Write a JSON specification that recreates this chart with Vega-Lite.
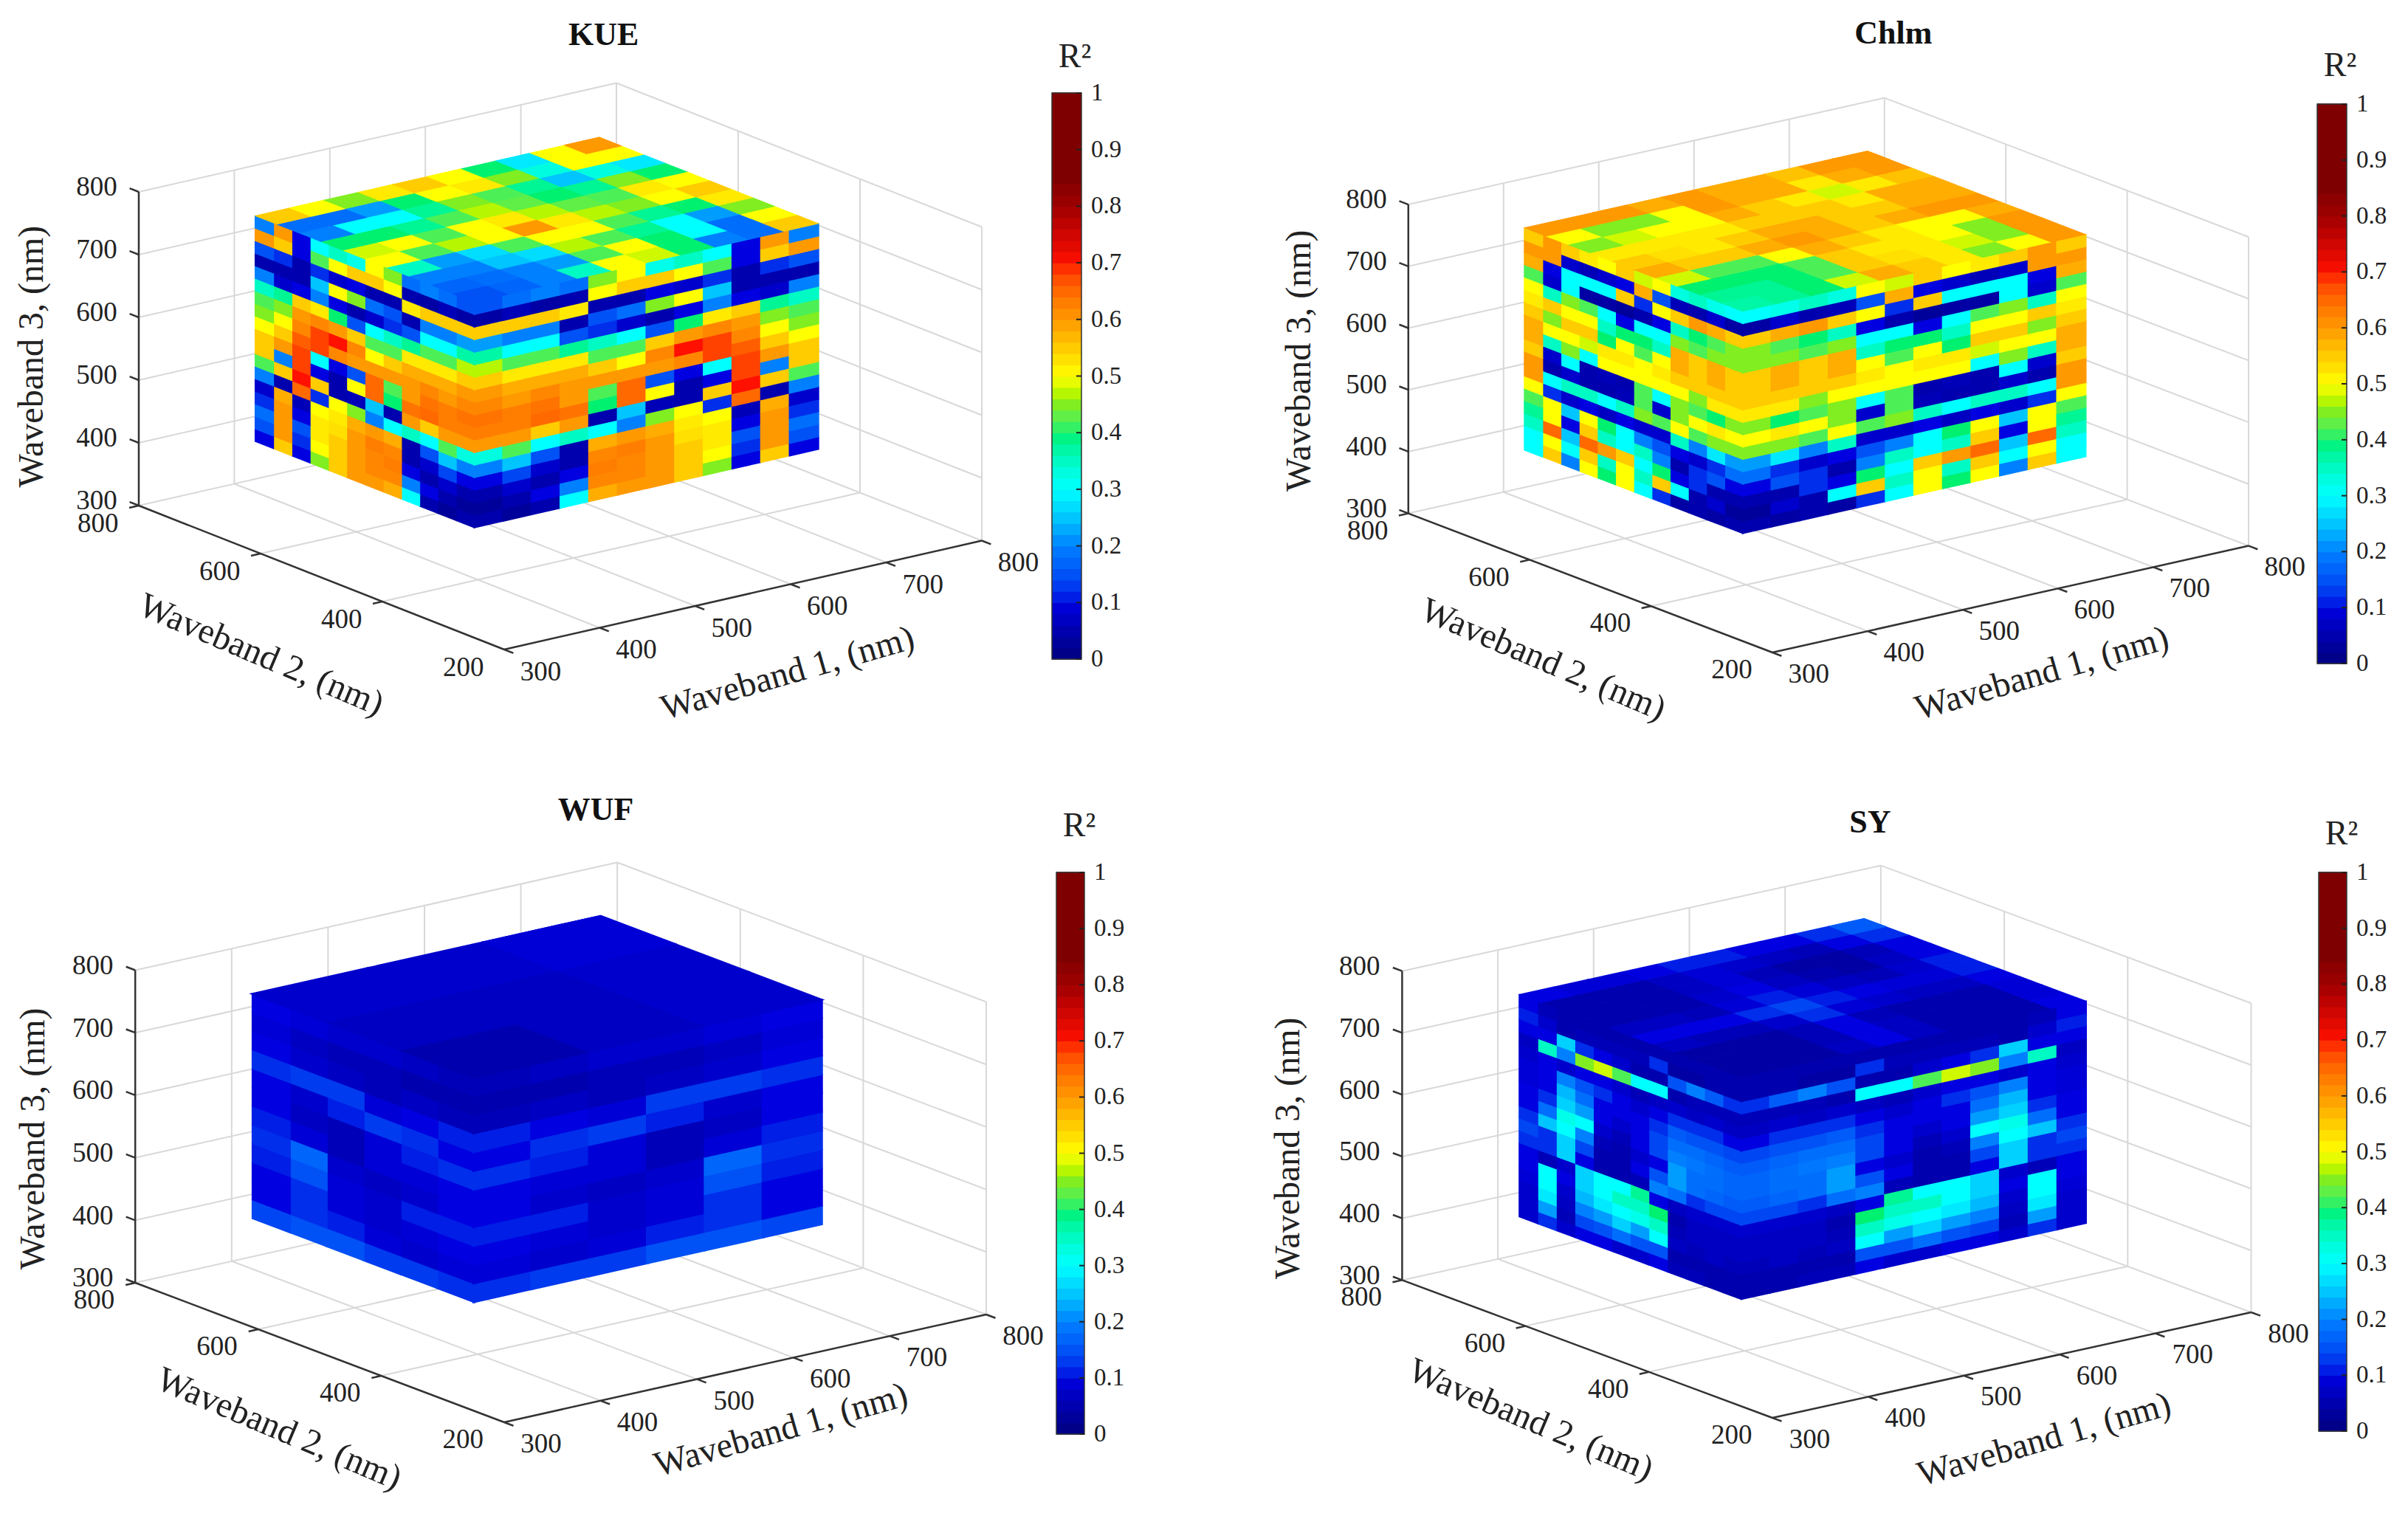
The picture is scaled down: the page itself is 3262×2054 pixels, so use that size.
{"$schema":"https://vega.github.io/schema/vega-lite/v6.json","width":3262,"height":2054,"padding":0,"autosize":{"type":"fit","contains":"padding"},"background":"white","view":{"stroke":null},
"params":[{"name":"P","value":{"K":{"x0":683,"y0":880,"ax":1.294,"ay":-0.295,"bx":-0.825,"by":-0.325,"cy":-0.85,"du":30,"dw":20,"dt":36,"cx0":1425,"cx1":1465,"ct":126,"cb":893,"rt":49},"C":{"x0":2401,"y0":884,"ax":1.29,"ay":-0.289,"bx":-0.822,"by":-0.314,"cy":-0.837,"du":30,"dw":20,"dt":36,"cx0":3139,"cx1":3179,"ct":141,"cb":899,"rt":52},"W":{"x0":683,"y0":1927,"ax":1.306,"ay":-0.292,"bx":-0.833,"by":-0.315,"cy":-0.847,"du":60,"dw":30,"dt":120,"cx0":1431,"cx1":1469,"ct":1182,"cb":1943,"rt":63},"S":{"x0":2401,"y0":1921,"ax":1.297,"ay":-0.286,"bx":-0.836,"by":-0.311,"cy":-0.8375,"du":30,"dw":20,"dt":36,"cx0":3141,"cx1":3179,"ct":1182,"cb":1939,"rt":52}}}],
"datasets":{
"frame":[{"g":1,"a":300,"b":200,"c":300,"a2":300,"b2":800,"c2":300},{"g":1,"a":400,"b":200,"c":300,"a2":400,"b2":800,"c2":300},{"g":1,"a":500,"b":200,"c":300,"a2":500,"b2":800,"c2":300},{"g":1,"a":600,"b":200,"c":300,"a2":600,"b2":800,"c2":300},{"g":1,"a":700,"b":200,"c":300,"a2":700,"b2":800,"c2":300},{"g":1,"a":800,"b":200,"c":300,"a2":800,"b2":800,"c2":300},{"g":1,"a":300,"b":400,"c":300,"a2":800,"b2":400,"c2":300},{"g":1,"a":300,"b":600,"c":300,"a2":800,"b2":600,"c2":300},{"g":1,"a":300,"b":800,"c":300,"a2":800,"b2":800,"c2":300},{"g":1,"a":400,"b":800,"c":300,"a2":400,"b2":800,"c2":800},{"g":1,"a":500,"b":800,"c":300,"a2":500,"b2":800,"c2":800},{"g":1,"a":600,"b":800,"c":300,"a2":600,"b2":800,"c2":800},{"g":1,"a":700,"b":800,"c":300,"a2":700,"b2":800,"c2":800},{"g":1,"a":800,"b":800,"c":300,"a2":800,"b2":800,"c2":800},{"g":1,"a":300,"b":800,"c":400,"a2":800,"b2":800,"c2":400},{"g":1,"a":300,"b":800,"c":500,"a2":800,"b2":800,"c2":500},{"g":1,"a":300,"b":800,"c":600,"a2":800,"b2":800,"c2":600},{"g":1,"a":300,"b":800,"c":700,"a2":800,"b2":800,"c2":700},{"g":1,"a":300,"b":800,"c":800,"a2":800,"b2":800,"c2":800},{"g":1,"a":800,"b":600,"c":300,"a2":800,"b2":600,"c2":800},{"g":1,"a":800,"b":400,"c":300,"a2":800,"b2":400,"c2":800},{"g":1,"a":800,"b":200,"c":300,"a2":800,"b2":200,"c2":800},{"g":1,"a":800,"b":800,"c":400,"a2":800,"b2":200,"c2":400},{"g":1,"a":800,"b":800,"c":500,"a2":800,"b2":200,"c2":500},{"g":1,"a":800,"b":800,"c":600,"a2":800,"b2":200,"c2":600},{"g":1,"a":800,"b":800,"c":700,"a2":800,"b2":200,"c2":700},{"g":1,"a":800,"b":800,"c":800,"a2":800,"b2":200,"c2":800},{"g":0,"a":300,"b":800,"c":300,"a2":300,"b2":800,"c2":800},{"g":0,"a":300,"b":200,"c":300,"a2":300,"b2":800,"c2":300},{"g":0,"a":300,"b":200,"c":300,"a2":800,"b2":200,"c2":300},{"g":0,"a":300,"b":200,"c":300,"a2":300,"b2":185,"c2":300},{"g":0,"a":400,"b":200,"c":300,"a2":400,"b2":185,"c2":300},{"g":0,"a":500,"b":200,"c":300,"a2":500,"b2":185,"c2":300},{"g":0,"a":600,"b":200,"c":300,"a2":600,"b2":185,"c2":300},{"g":0,"a":700,"b":200,"c":300,"a2":700,"b2":185,"c2":300},{"g":0,"a":800,"b":200,"c":300,"a2":800,"b2":185,"c2":300},{"g":0,"a":300,"b":400,"c":300,"a2":290,"b2":400,"c2":300},{"g":0,"a":300,"b":600,"c":300,"a2":290,"b2":600,"c2":300},{"g":0,"a":300,"b":800,"c":300,"a2":290,"b2":800,"c2":300},{"g":0,"a":300,"b":800,"c":300,"a2":300,"b2":815,"c2":300},{"g":0,"a":300,"b":800,"c":400,"a2":300,"b2":815,"c2":400},{"g":0,"a":300,"b":800,"c":500,"a2":300,"b2":815,"c2":500},{"g":0,"a":300,"b":800,"c":600,"a2":300,"b2":815,"c2":600},{"g":0,"a":300,"b":800,"c":700,"a2":300,"b2":815,"c2":700},{"g":0,"a":300,"b":800,"c":800,"a2":300,"b2":815,"c2":800}],
"text":[{"k":"tick","t":"300","a":286,"b":118,"c":300},{"k":"tick","t":"400","a":386,"b":118,"c":300},{"k":"tick","t":"500","a":486,"b":118,"c":300},{"k":"tick","t":"600","a":586,"b":118,"c":300},{"k":"tick","t":"700","a":686,"b":118,"c":300},{"k":"tick","t":"800","a":786,"b":118,"c":300},{"k":"tick","t":"200","a":242,"b":176,"c":300},{"k":"tick","t":"400","a":242,"b":376,"c":300},{"k":"tick","t":"600","a":242,"b":576,"c":300},{"k":"tick","t":"800","a":242,"b":776,"c":300},{"k":"tick","t":"300","a":300,"b":869,"c":281},{"k":"tick","t":"400","a":300,"b":869,"c":381},{"k":"tick","t":"500","a":300,"b":869,"c":481},{"k":"tick","t":"600","a":300,"b":869,"c":581},{"k":"tick","t":"700","a":300,"b":869,"c":681},{"k":"tick","t":"800","a":300,"b":869,"c":781},
{"k":"w1","p":"K","t":"Waveband 1, (nm)","a":447,"b":-35,"c":300},{"k":"w1","p":"C","t":"Waveband 1, (nm)","a":441,"b":-23,"c":300},{"k":"w1","p":"W","t":"Waveband 1, (nm)","a":466,"b":10,"c":300},{"k":"w1","p":"S","t":"Waveband 1, (nm)","a":439,"b":-25,"c":300},
{"k":"w2","p":"K","t":"Waveband 2, (nm)","a":129,"b":331,"c":300},{"k":"w2","p":"C","t":"Waveband 2, (nm)","a":135,"b":319,"c":300},{"k":"w2","p":"W","t":"Waveband 2, (nm)","a":141,"b":317,"c":300},{"k":"w2","p":"S","t":"Waveband 2, (nm)","a":137,"b":339,"c":300},
{"k":"w3","p":"K","t":"Waveband 3, (nm)","a":300,"b":974,"c":471},{"k":"w3","p":"C","t":"Waveband 3, (nm)","a":300,"b":979,"c":480},{"k":"w3","p":"W","t":"Waveband 3, (nm)","a":300,"b":965,"c":469},{"k":"w3","p":"S","t":"Waveband 3, (nm)","a":300,"b":984,"c":445},
{"k":"title","p":"K","t":"KUE","a":404,"b":200,"c":1243},{"k":"title","p":"C","t":"Chlm","a":427,"b":200,"c":1257},{"k":"title","p":"W","t":"WUF","a":395,"b":200,"c":1246},{"k":"title","p":"S","t":"SY","a":402,"b":200,"c":1227}],
"cbar":[{"r":0.01},{"r":0.03},{"r":0.05},{"r":0.07},{"r":0.09},{"r":0.11},{"r":0.13},{"r":0.15},{"r":0.17},{"r":0.19},{"r":0.21},{"r":0.23},{"r":0.25},{"r":0.27},{"r":0.29},{"r":0.31},{"r":0.33},{"r":0.35},{"r":0.37},{"r":0.39},{"r":0.41},{"r":0.43},{"r":0.45},{"r":0.47},{"r":0.49},{"r":0.51},{"r":0.53},{"r":0.55},{"r":0.57},{"r":0.59},{"r":0.61},{"r":0.63},{"r":0.65},{"r":0.67},{"r":0.69},{"r":0.71},{"r":0.73},{"r":0.75},{"r":0.77},{"r":0.79},{"r":0.81},{"r":0.83},{"r":0.85},{"r":0.87},{"r":0.89},{"r":0.91},{"r":0.93},{"r":0.95},{"r":0.97},{"r":0.99}],
"clab":[{"r":0,"t":"0"},{"r":0.1,"t":"0.1"},{"r":0.2,"t":"0.2"},{"r":0.3,"t":"0.3"},{"r":0.4,"t":"0.4"},{"r":0.5,"t":"0.5"},{"r":0.6,"t":"0.6"},{"r":0.7,"t":"0.7"},{"r":0.8,"t":"0.8"},{"r":0.9,"t":"0.9"},{"r":1,"t":"1"}],
"top":[
{"p":"K","u":390,"v":390,"r":0.15},{"p":"K","u":426,"v":390,"r":0.17},{"p":"K","u":462,"v":390,"r":0.2},{"p":"K","u":498,"v":390,"r":0.35},{"p":"K","u":534,"v":390,"r":0.5},{"p":"K","u":570,"v":390,"r":0.48},{"p":"K","u":606,"v":390,"r":0.4},{"p":"K","u":642,"v":390,"r":0.2},{"p":"K","u":678,"v":390,"r":0.18},{"p":"K","u":714,"v":390,"r":0.55},
{"p":"K","u":426,"v":426,"r":0.18},{"p":"K","u":462,"v":426,"r":0.2},{"p":"K","u":498,"v":426,"r":0.22},{"p":"K","u":534,"v":426,"r":0.42},{"p":"K","u":570,"v":426,"r":0.5},{"p":"K","u":606,"v":426,"r":0.4},{"p":"K","u":642,"v":426,"r":0.3},{"p":"K","u":678,"v":426,"r":0.18},{"p":"K","u":714,"v":426,"r":0.5},
{"p":"K","u":462,"v":462,"r":0.25},{"p":"K","u":498,"v":462,"r":0.27},{"p":"K","u":534,"v":462,"r":0.47},{"p":"K","u":570,"v":462,"r":0.42},{"p":"K","u":606,"v":462,"r":0.38},{"p":"K","u":642,"v":462,"r":0.3},{"p":"K","u":678,"v":462,"r":0.22},{"p":"K","u":714,"v":462,"r":0.45},
{"p":"K","u":498,"v":498,"r":0.42},{"p":"K","u":534,"v":498,"r":0.5},{"p":"K","u":570,"v":498,"r":0.5},{"p":"K","u":606,"v":498,"r":0.42},{"p":"K","u":642,"v":498,"r":0.38},{"p":"K","u":678,"v":498,"r":0.4},{"p":"K","u":714,"v":498,"r":0.52},
{"p":"K","u":534,"v":534,"r":0.6},{"p":"K","u":570,"v":534,"r":0.52},{"p":"K","u":606,"v":534,"r":0.47},{"p":"K","u":642,"v":534,"r":0.45},{"p":"K","u":678,"v":534,"r":0.5},{"p":"K","u":714,"v":534,"r":0.55},
{"p":"K","u":570,"v":570,"r":0.47},{"p":"K","u":606,"v":570,"r":0.43},{"p":"K","u":642,"v":570,"r":0.42},{"p":"K","u":678,"v":570,"r":0.52},{"p":"K","u":714,"v":570,"r":0.5},
{"p":"K","u":606,"v":606,"r":0.4},{"p":"K","u":642,"v":606,"r":0.38},{"p":"K","u":678,"v":606,"r":0.45},{"p":"K","u":714,"v":606,"r":0.4},
{"p":"K","u":642,"v":642,"r":0.25},{"p":"K","u":678,"v":642,"r":0.33},{"p":"K","u":714,"v":642,"r":0.28},
{"p":"K","u":678,"v":678,"r":0.5},{"p":"K","u":714,"v":678,"r":0.5},{"p":"K","u":714,"v":714,"r":0.6},
{"p":"C","u":390,"v":390,"r":0.37},{"p":"C","u":426,"v":390,"r":0.38},{"p":"C","u":462,"v":390,"r":0.4},{"p":"C","u":498,"v":390,"r":0.48},{"p":"C","u":534,"v":390,"r":0.58},{"p":"C","u":570,"v":390,"r":0.55},{"p":"C","u":606,"v":390,"r":0.52},{"p":"C","u":642,"v":390,"r":0.45},{"p":"C","u":678,"v":390,"r":0.5},{"p":"C","u":714,"v":390,"r":0.6},
{"p":"C","u":426,"v":426,"r":0.38},{"p":"C","u":462,"v":426,"r":0.4},{"p":"C","u":498,"v":426,"r":0.42},{"p":"C","u":534,"v":426,"r":0.55},{"p":"C","u":570,"v":426,"r":0.53},{"p":"C","u":606,"v":426,"r":0.52},{"p":"C","u":642,"v":426,"r":0.48},{"p":"C","u":678,"v":426,"r":0.45},{"p":"C","u":714,"v":426,"r":0.6},
{"p":"C","u":462,"v":462,"r":0.4},{"p":"C","u":498,"v":462,"r":0.42},{"p":"C","u":534,"v":462,"r":0.55},{"p":"C","u":570,"v":462,"r":0.52},{"p":"C","u":606,"v":462,"r":0.52},{"p":"C","u":642,"v":462,"r":0.5},{"p":"C","u":678,"v":462,"r":0.45},{"p":"C","u":714,"v":462,"r":0.6},
{"p":"C","u":498,"v":498,"r":0.5},{"p":"C","u":534,"v":498,"r":0.58},{"p":"C","u":570,"v":498,"r":0.55},{"p":"C","u":606,"v":498,"r":0.52},{"p":"C","u":642,"v":498,"r":0.5},{"p":"C","u":678,"v":498,"r":0.5},{"p":"C","u":714,"v":498,"r":0.58},
{"p":"C","u":534,"v":534,"r":0.6},{"p":"C","u":570,"v":534,"r":0.58},{"p":"C","u":606,"v":534,"r":0.55},{"p":"C","u":642,"v":534,"r":0.58},{"p":"C","u":678,"v":534,"r":0.6},{"p":"C","u":714,"v":534,"r":0.6},
{"p":"C","u":570,"v":570,"r":0.58},{"p":"C","u":606,"v":570,"r":0.55},{"p":"C","u":642,"v":570,"r":0.55},{"p":"C","u":678,"v":570,"r":0.58},{"p":"C","u":714,"v":570,"r":0.58},
{"p":"C","u":606,"v":606,"r":0.55},{"p":"C","u":642,"v":606,"r":0.52},{"p":"C","u":678,"v":606,"r":0.58},{"p":"C","u":714,"v":606,"r":0.58},
{"p":"C","u":642,"v":642,"r":0.48},{"p":"C","u":678,"v":642,"r":0.52},{"p":"C","u":714,"v":642,"r":0.56},
{"p":"C","u":678,"v":678,"r":0.58},{"p":"C","u":714,"v":678,"r":0.6},{"p":"C","u":714,"v":714,"r":0.6},
{"p":"S","u":390,"v":390,"r":0.04},{"p":"S","u":426,"v":390,"r":0.04},{"p":"S","u":462,"v":390,"r":0.04},{"p":"S","u":498,"v":390,"r":0.07},{"p":"S","u":534,"v":390,"r":0.1},{"p":"S","u":570,"v":390,"r":0.07},{"p":"S","u":606,"v":390,"r":0.05},{"p":"S","u":642,"v":390,"r":0.05},{"p":"S","u":678,"v":390,"r":0.05},{"p":"S","u":714,"v":390,"r":0.1},
{"p":"S","u":426,"v":426,"r":0.04},{"p":"S","u":462,"v":426,"r":0.04},{"p":"S","u":498,"v":426,"r":0.06},{"p":"S","u":534,"v":426,"r":0.1},{"p":"S","u":570,"v":426,"r":0.07},{"p":"S","u":606,"v":426,"r":0.05},{"p":"S","u":642,"v":426,"r":0.05},{"p":"S","u":678,"v":426,"r":0.05},{"p":"S","u":714,"v":426,"r":0.09},
{"p":"S","u":462,"v":462,"r":0.04},{"p":"S","u":498,"v":462,"r":0.06},{"p":"S","u":534,"v":462,"r":0.1},{"p":"S","u":570,"v":462,"r":0.06},{"p":"S","u":606,"v":462,"r":0.05},{"p":"S","u":642,"v":462,"r":0.05},{"p":"S","u":678,"v":462,"r":0.05},{"p":"S","u":714,"v":462,"r":0.09},
{"p":"S","u":498,"v":498,"r":0.08},{"p":"S","u":534,"v":498,"r":0.12},{"p":"S","u":570,"v":498,"r":0.09},{"p":"S","u":606,"v":498,"r":0.08},{"p":"S","u":642,"v":498,"r":0.07},{"p":"S","u":678,"v":498,"r":0.07},{"p":"S","u":714,"v":498,"r":0.1},
{"p":"S","u":534,"v":534,"r":0.14},{"p":"S","u":570,"v":534,"r":0.11},{"p":"S","u":606,"v":534,"r":0.1},{"p":"S","u":642,"v":534,"r":0.09},{"p":"S","u":678,"v":534,"r":0.09},{"p":"S","u":714,"v":534,"r":0.11},
{"p":"S","u":570,"v":570,"r":0.09},{"p":"S","u":606,"v":570,"r":0.07},{"p":"S","u":642,"v":570,"r":0.06},{"p":"S","u":678,"v":570,"r":0.08},{"p":"S","u":714,"v":570,"r":0.11},
{"p":"S","u":606,"v":606,"r":0.05},{"p":"S","u":642,"v":606,"r":0.04},{"p":"S","u":678,"v":606,"r":0.07},{"p":"S","u":714,"v":606,"r":0.1},
{"p":"S","u":642,"v":642,"r":0.04},{"p":"S","u":678,"v":642,"r":0.06},{"p":"S","u":714,"v":642,"r":0.1},
{"p":"S","u":678,"v":678,"r":0.1},{"p":"S","u":714,"v":678,"r":0.12},{"p":"S","u":714,"v":714,"r":0.16},
{"p":"W","u":390,"v":390,"r":0.05},{"p":"W","u":510,"v":390,"r":0.07},{"p":"W","u":630,"v":390,"r":0.08},{"p":"W","u":510,"v":510,"r":0.07},{"p":"W","u":630,"v":510,"r":0.08},{"p":"W","u":630,"v":630,"r":0.09}],
"side":[
{"p":"W","u":390,"w":390,"r":0.12},{"p":"W","u":390,"w":420,"r":0.09},{"p":"W","u":390,"w":450,"r":0.1},{"p":"W","u":390,"w":480,"r":0.11},{"p":"W","u":390,"w":510,"r":0.1},{"p":"W","u":390,"w":540,"r":0.1},{"p":"W","u":390,"w":570,"r":0.12},{"p":"W","u":390,"w":600,"r":0.1},{"p":"W","u":390,"w":630,"r":0.11},{"p":"W","u":390,"w":660,"r":0.06},{"p":"W","u":390,"w":690,"r":0.05},{"p":"W","u":390,"w":720,"r":0.06},
{"p":"W","u":450,"w":390,"r":0.13},{"p":"W","u":450,"w":420,"r":0.08},{"p":"W","u":450,"w":450,"r":0.09},{"p":"W","u":450,"w":480,"r":0.11},{"p":"W","u":450,"w":510,"r":0.08},{"p":"W","u":450,"w":540,"r":0.09},{"p":"W","u":450,"w":570,"r":0.11},{"p":"W","u":450,"w":600,"r":0.12},{"p":"W","u":450,"w":630,"r":0.1},{"p":"W","u":450,"w":660,"r":0.07},{"p":"W","u":450,"w":690,"r":0.05},{"p":"W","u":450,"w":720,"r":0.07},
{"p":"W","u":510,"w":390,"r":0.13},{"p":"W","u":510,"w":420,"r":0.09},{"p":"W","u":510,"w":450,"r":0.08},{"p":"W","u":510,"w":480,"r":0.08},{"p":"W","u":510,"w":510,"r":0.07},{"p":"W","u":510,"w":540,"r":0.09},{"p":"W","u":510,"w":570,"r":0.09},{"p":"W","u":510,"w":600,"r":0.13},{"p":"W","u":510,"w":630,"r":0.09},{"p":"W","u":510,"w":660,"r":0.06},{"p":"W","u":510,"w":690,"r":0.06},{"p":"W","u":510,"w":720,"r":0.08},
{"p":"W","u":570,"w":390,"r":0.15},{"p":"W","u":570,"w":420,"r":0.11},{"p":"W","u":570,"w":450,"r":0.09},{"p":"W","u":570,"w":480,"r":0.09},{"p":"W","u":570,"w":510,"r":0.08},{"p":"W","u":570,"w":540,"r":0.06},{"p":"W","u":570,"w":570,"r":0.06},{"p":"W","u":570,"w":600,"r":0.11},{"p":"W","u":570,"w":630,"r":0.13},{"p":"W","u":570,"w":660,"r":0.07},{"p":"W","u":570,"w":690,"r":0.06},{"p":"W","u":570,"w":720,"r":0.08},
{"p":"W","u":630,"w":390,"r":0.15},{"p":"W","u":630,"w":420,"r":0.12},{"p":"W","u":630,"w":450,"r":0.12},{"p":"W","u":630,"w":480,"r":0.15},{"p":"W","u":630,"w":510,"r":0.17},{"p":"W","u":630,"w":540,"r":0.09},{"p":"W","u":630,"w":570,"r":0.07},{"p":"W","u":630,"w":600,"r":0.08},{"p":"W","u":630,"w":630,"r":0.13},{"p":"W","u":630,"w":660,"r":0.08},{"p":"W","u":630,"w":690,"r":0.07},{"p":"W","u":630,"w":720,"r":0.09},
{"p":"W","u":690,"w":390,"r":0.14},{"p":"W","u":690,"w":420,"r":0.1},{"p":"W","u":690,"w":450,"r":0.1},{"p":"W","u":690,"w":480,"r":0.11},{"p":"W","u":690,"w":510,"r":0.12},{"p":"W","u":690,"w":540,"r":0.11},{"p":"W","u":690,"w":570,"r":0.1},{"p":"W","u":690,"w":600,"r":0.1},{"p":"W","u":690,"w":630,"r":0.12},{"p":"W","u":690,"w":660,"r":0.1},{"p":"W","u":690,"w":690,"r":0.09},{"p":"W","u":690,"w":720,"r":0.1},
{"p":"K","u":390,"w":390,"r":0.05},{"p":"K","u":390,"w":410,"r":0.03},{"p":"K","u":390,"w":430,"r":0.05},{"p":"K","u":390,"w":450,"r":0.1},{"p":"K","u":390,"w":470,"r":0.2},{"p":"K","u":390,"w":490,"r":0.33},{"p":"K","u":390,"w":510,"r":0.6},{"p":"K","u":390,"w":530,"r":0.63},{"p":"K","u":390,"w":550,"r":0.64},{"p":"K","u":390,"w":570,"r":0.62},{"p":"K","u":390,"w":590,"r":0.6},{"p":"K","u":390,"w":610,"r":0.55},{"p":"K","u":390,"w":630,"r":0.47},{"p":"K","u":390,"w":650,"r":0.37},{"p":"K","u":390,"w":670,"r":0.22},{"p":"K","u":390,"w":690,"r":0.55},{"p":"K","u":390,"w":710,"r":0.04},{"p":"K","u":390,"w":730,"r":0.15},
{"p":"K","u":420,"w":390,"r":0.03},{"p":"K","u":420,"w":410,"r":0.05},{"p":"K","u":420,"w":430,"r":0.08},{"p":"K","u":420,"w":450,"r":0.14},{"p":"K","u":420,"w":470,"r":0.25},{"p":"K","u":420,"w":490,"r":0.42},{"p":"K","u":420,"w":510,"r":0.6},{"p":"K","u":420,"w":530,"r":0.63},{"p":"K","u":420,"w":550,"r":0.63},{"p":"K","u":420,"w":570,"r":0.6},{"p":"K","u":420,"w":590,"r":0.58},{"p":"K","u":420,"w":610,"r":0.52},{"p":"K","u":420,"w":630,"r":0.42},{"p":"K","u":420,"w":650,"r":0.3},{"p":"K","u":420,"w":670,"r":0.2},{"p":"K","u":420,"w":690,"r":0.55},{"p":"K","u":420,"w":710,"r":0.06},{"p":"K","u":420,"w":730,"r":0.18},
{"p":"K","u":450,"w":390,"r":0.05},{"p":"K","u":450,"w":410,"r":0.1},{"p":"K","u":450,"w":430,"r":0.05},{"p":"K","u":450,"w":450,"r":0.08},{"p":"K","u":450,"w":470,"r":0.15},{"p":"K","u":450,"w":490,"r":0.3},{"p":"K","u":450,"w":510,"r":0.55},{"p":"K","u":450,"w":530,"r":0.65},{"p":"K","u":450,"w":550,"r":0.64},{"p":"K","u":450,"w":570,"r":0.62},{"p":"K","u":450,"w":590,"r":0.58},{"p":"K","u":450,"w":610,"r":0.52},{"p":"K","u":450,"w":630,"r":0.42},{"p":"K","u":450,"w":650,"r":0.3},{"p":"K","u":450,"w":670,"r":0.2},{"p":"K","u":450,"w":690,"r":0.55},{"p":"K","u":450,"w":710,"r":0.04},{"p":"K","u":450,"w":730,"r":0.2},
{"p":"K","u":480,"w":390,"r":0.3},{"p":"K","u":480,"w":410,"r":0.2},{"p":"K","u":480,"w":430,"r":0.1},{"p":"K","u":480,"w":450,"r":0.05},{"p":"K","u":480,"w":470,"r":0.05},{"p":"K","u":480,"w":490,"r":0.35},{"p":"K","u":480,"w":510,"r":0.6},{"p":"K","u":480,"w":530,"r":0.64},{"p":"K","u":480,"w":550,"r":0.6},{"p":"K","u":480,"w":570,"r":0.6},{"p":"K","u":480,"w":590,"r":0.58},{"p":"K","u":480,"w":610,"r":0.52},{"p":"K","u":480,"w":630,"r":0.38},{"p":"K","u":480,"w":650,"r":0.15},{"p":"K","u":480,"w":670,"r":0.05},{"p":"K","u":480,"w":690,"r":0.52},{"p":"K","u":480,"w":710,"r":0.05},{"p":"K","u":480,"w":730,"r":0.18},
{"p":"K","u":510,"w":390,"r":0.58},{"p":"K","u":510,"w":410,"r":0.62},{"p":"K","u":510,"w":430,"r":0.63},{"p":"K","u":510,"w":450,"r":0.62},{"p":"K","u":510,"w":470,"r":0.58},{"p":"K","u":510,"w":490,"r":0.3},{"p":"K","u":510,"w":510,"r":0.05},{"p":"K","u":510,"w":530,"r":0.4},{"p":"K","u":510,"w":550,"r":0.42},{"p":"K","u":510,"w":570,"r":0.6},{"p":"K","u":510,"w":590,"r":0.55},{"p":"K","u":510,"w":610,"r":0.42},{"p":"K","u":510,"w":630,"r":0.35},{"p":"K","u":510,"w":650,"r":0.12},{"p":"K","u":510,"w":670,"r":0.15},{"p":"K","u":510,"w":690,"r":0.05},{"p":"K","u":510,"w":710,"r":0.5},{"p":"K","u":510,"w":730,"r":0.45},
{"p":"K","u":540,"w":390,"r":0.6},{"p":"K","u":540,"w":410,"r":0.62},{"p":"K","u":540,"w":430,"r":0.62},{"p":"K","u":540,"w":450,"r":0.63},{"p":"K","u":540,"w":470,"r":0.6},{"p":"K","u":540,"w":490,"r":0.2},{"p":"K","u":540,"w":510,"r":0.25},{"p":"K","u":540,"w":530,"r":0.65},{"p":"K","u":540,"w":550,"r":0.65},{"p":"K","u":540,"w":570,"r":0.6},{"p":"K","u":540,"w":590,"r":0.5},{"p":"K","u":540,"w":610,"r":0.42},{"p":"K","u":540,"w":630,"r":0.3},{"p":"K","u":540,"w":650,"r":0.08},{"p":"K","u":540,"w":670,"r":0.18},{"p":"K","u":540,"w":690,"r":0.05},{"p":"K","u":540,"w":710,"r":0.55},{"p":"K","u":540,"w":730,"r":0.5},
{"p":"K","u":570,"w":390,"r":0.6},{"p":"K","u":570,"w":410,"r":0.6},{"p":"K","u":570,"w":430,"r":0.6},{"p":"K","u":570,"w":450,"r":0.6},{"p":"K","u":570,"w":470,"r":0.58},{"p":"K","u":570,"w":490,"r":0.45},{"p":"K","u":570,"w":510,"r":0.06},{"p":"K","u":570,"w":530,"r":0.5},{"p":"K","u":570,"w":550,"r":0.15},{"p":"K","u":570,"w":570,"r":0.6},{"p":"K","u":570,"w":590,"r":0.62},{"p":"K","u":570,"w":610,"r":0.55},{"p":"K","u":570,"w":630,"r":0.15},{"p":"K","u":570,"w":650,"r":0.05},{"p":"K","u":570,"w":670,"r":0.45},{"p":"K","u":570,"w":690,"r":0.1},{"p":"K","u":570,"w":710,"r":0.55},{"p":"K","u":570,"w":730,"r":0.32},
{"p":"K","u":600,"w":390,"r":0.55},{"p":"K","u":600,"w":410,"r":0.55},{"p":"K","u":600,"w":430,"r":0.55},{"p":"K","u":600,"w":450,"r":0.53},{"p":"K","u":600,"w":470,"r":0.52},{"p":"K","u":600,"w":490,"r":0.5},{"p":"K","u":600,"w":510,"r":0.05},{"p":"K","u":600,"w":530,"r":0.05},{"p":"K","u":600,"w":550,"r":0.1},{"p":"K","u":600,"w":570,"r":0.62},{"p":"K","u":600,"w":590,"r":0.7},{"p":"K","u":600,"w":610,"r":0.6},{"p":"K","u":600,"w":630,"r":0.4},{"p":"K","u":600,"w":650,"r":0.1},{"p":"K","u":600,"w":670,"r":0.5},{"p":"K","u":600,"w":690,"r":0.08},{"p":"K","u":600,"w":710,"r":0.5},{"p":"K","u":600,"w":730,"r":0.35},
{"p":"K","u":630,"w":390,"r":0.45},{"p":"K","u":630,"w":410,"r":0.5},{"p":"K","u":630,"w":430,"r":0.52},{"p":"K","u":630,"w":450,"r":0.52},{"p":"K","u":630,"w":470,"r":0.5},{"p":"K","u":630,"w":490,"r":0.12},{"p":"K","u":630,"w":510,"r":0.55},{"p":"K","u":630,"w":530,"r":0.1},{"p":"K","u":630,"w":550,"r":0.3},{"p":"K","u":630,"w":570,"r":0.68},{"p":"K","u":630,"w":590,"r":0.68},{"p":"K","u":630,"w":610,"r":0.62},{"p":"K","u":630,"w":630,"r":0.52},{"p":"K","u":630,"w":650,"r":0.2},{"p":"K","u":630,"w":670,"r":0.25},{"p":"K","u":630,"w":690,"r":0.12},{"p":"K","u":630,"w":710,"r":0.42},{"p":"K","u":630,"w":730,"r":0.3},
{"p":"K","u":660,"w":390,"r":0.1},{"p":"K","u":660,"w":410,"r":0.12},{"p":"K","u":660,"w":430,"r":0.15},{"p":"K","u":660,"w":450,"r":0.1},{"p":"K","u":660,"w":470,"r":0.06},{"p":"K","u":660,"w":490,"r":0.65},{"p":"K","u":660,"w":510,"r":0.7},{"p":"K","u":660,"w":530,"r":0.68},{"p":"K","u":660,"w":550,"r":0.68},{"p":"K","u":660,"w":570,"r":0.66},{"p":"K","u":660,"w":590,"r":0.62},{"p":"K","u":660,"w":610,"r":0.6},{"p":"K","u":660,"w":630,"r":0.55},{"p":"K","u":660,"w":650,"r":0.1},{"p":"K","u":660,"w":670,"r":0.05},{"p":"K","u":660,"w":690,"r":0.05},{"p":"K","u":660,"w":710,"r":0.1},{"p":"K","u":660,"w":730,"r":0.1},
{"p":"K","u":690,"w":390,"r":0.55},{"p":"K","u":690,"w":410,"r":0.6},{"p":"K","u":690,"w":430,"r":0.6},{"p":"K","u":690,"w":450,"r":0.6},{"p":"K","u":690,"w":470,"r":0.58},{"p":"K","u":690,"w":490,"r":0.05},{"p":"K","u":690,"w":510,"r":0.55},{"p":"K","u":690,"w":530,"r":0.2},{"p":"K","u":690,"w":550,"r":0.6},{"p":"K","u":690,"w":570,"r":0.55},{"p":"K","u":690,"w":590,"r":0.5},{"p":"K","u":690,"w":610,"r":0.45},{"p":"K","u":690,"w":630,"r":0.38},{"p":"K","u":690,"w":650,"r":0.08},{"p":"K","u":690,"w":670,"r":0.05},{"p":"K","u":690,"w":690,"r":0.12},{"p":"K","u":690,"w":710,"r":0.55},{"p":"K","u":690,"w":730,"r":0.6},
{"p":"K","u":720,"w":390,"r":0.1},{"p":"K","u":720,"w":410,"r":0.15},{"p":"K","u":720,"w":430,"r":0.18},{"p":"K","u":720,"w":450,"r":0.12},{"p":"K","u":720,"w":470,"r":0.08},{"p":"K","u":720,"w":490,"r":0.2},{"p":"K","u":720,"w":510,"r":0.42},{"p":"K","u":720,"w":530,"r":0.55},{"p":"K","u":720,"w":550,"r":0.55},{"p":"K","u":720,"w":570,"r":0.5},{"p":"K","u":720,"w":590,"r":0.45},{"p":"K","u":720,"w":610,"r":0.42},{"p":"K","u":720,"w":630,"r":0.35},{"p":"K","u":720,"w":650,"r":0.2},{"p":"K","u":720,"w":670,"r":0.05},{"p":"K","u":720,"w":690,"r":0.15},{"p":"K","u":720,"w":710,"r":0.6},{"p":"K","u":720,"w":730,"r":0.2},
{"p":"C","u":390,"w":390,"r":0.05},{"p":"C","u":390,"w":410,"r":0.03},{"p":"C","u":390,"w":430,"r":0.05},{"p":"C","u":390,"w":450,"r":0.1},{"p":"C","u":390,"w":470,"r":0.18},{"p":"C","u":390,"w":490,"r":0.22},{"p":"C","u":390,"w":510,"r":0.45},{"p":"C","u":390,"w":530,"r":0.5},{"p":"C","u":390,"w":550,"r":0.45},{"p":"C","u":390,"w":570,"r":0.52},{"p":"C","u":390,"w":590,"r":0.55},{"p":"C","u":390,"w":610,"r":0.55},{"p":"C","u":390,"w":630,"r":0.55},{"p":"C","u":390,"w":650,"r":0.45},{"p":"C","u":390,"w":670,"r":0.45},{"p":"C","u":390,"w":690,"r":0.55},{"p":"C","u":390,"w":710,"r":0.04},{"p":"C","u":390,"w":730,"r":0.3},
{"p":"C","u":420,"w":390,"r":0.04},{"p":"C","u":420,"w":410,"r":0.08},{"p":"C","u":420,"w":430,"r":0.05},{"p":"C","u":420,"w":450,"r":0.15},{"p":"C","u":420,"w":470,"r":0.12},{"p":"C","u":420,"w":490,"r":0.28},{"p":"C","u":420,"w":510,"r":0.45},{"p":"C","u":420,"w":530,"r":0.52},{"p":"C","u":420,"w":550,"r":0.4},{"p":"C","u":420,"w":570,"r":0.52},{"p":"C","u":420,"w":590,"r":0.55},{"p":"C","u":420,"w":610,"r":0.58},{"p":"C","u":420,"w":630,"r":0.58},{"p":"C","u":420,"w":650,"r":0.45},{"p":"C","u":420,"w":670,"r":0.42},{"p":"C","u":420,"w":690,"r":0.58},{"p":"C","u":420,"w":710,"r":0.08},{"p":"C","u":420,"w":730,"r":0.32},
{"p":"C","u":450,"w":390,"r":0.05},{"p":"C","u":450,"w":410,"r":0.05},{"p":"C","u":450,"w":430,"r":0.12},{"p":"C","u":450,"w":450,"r":0.12},{"p":"C","u":450,"w":470,"r":0.08},{"p":"C","u":450,"w":490,"r":0.2},{"p":"C","u":450,"w":510,"r":0.42},{"p":"C","u":450,"w":530,"r":0.5},{"p":"C","u":450,"w":550,"r":0.42},{"p":"C","u":450,"w":570,"r":0.45},{"p":"C","u":450,"w":590,"r":0.55},{"p":"C","u":450,"w":610,"r":0.55},{"p":"C","u":450,"w":630,"r":0.55},{"p":"C","u":450,"w":650,"r":0.42},{"p":"C","u":450,"w":670,"r":0.4},{"p":"C","u":450,"w":690,"r":0.6},{"p":"C","u":450,"w":710,"r":0.05},{"p":"C","u":450,"w":730,"r":0.35},
{"p":"C","u":480,"w":390,"r":0.04},{"p":"C","u":480,"w":410,"r":0.3},{"p":"C","u":480,"w":430,"r":0.1},{"p":"C","u":480,"w":450,"r":0.05},{"p":"C","u":480,"w":470,"r":0.1},{"p":"C","u":480,"w":490,"r":0.35},{"p":"C","u":480,"w":510,"r":0.5},{"p":"C","u":480,"w":530,"r":0.45},{"p":"C","u":480,"w":550,"r":0.45},{"p":"C","u":480,"w":570,"r":0.5},{"p":"C","u":480,"w":590,"r":0.55},{"p":"C","u":480,"w":610,"r":0.58},{"p":"C","u":480,"w":630,"r":0.58},{"p":"C","u":480,"w":650,"r":0.45},{"p":"C","u":480,"w":670,"r":0.35},{"p":"C","u":480,"w":690,"r":0.55},{"p":"C","u":480,"w":710,"r":0.06},{"p":"C","u":480,"w":730,"r":0.33},
{"p":"C","u":510,"w":390,"r":0.12},{"p":"C","u":510,"w":410,"r":0.55},{"p":"C","u":510,"w":430,"r":0.4},{"p":"C","u":510,"w":450,"r":0.2},{"p":"C","u":510,"w":470,"r":0.15},{"p":"C","u":510,"w":490,"r":0.08},{"p":"C","u":510,"w":510,"r":0.42},{"p":"C","u":510,"w":530,"r":0.08},{"p":"C","u":510,"w":550,"r":0.3},{"p":"C","u":510,"w":570,"r":0.5},{"p":"C","u":510,"w":590,"r":0.52},{"p":"C","u":510,"w":610,"r":0.5},{"p":"C","u":510,"w":630,"r":0.35},{"p":"C","u":510,"w":650,"r":0.3},{"p":"C","u":510,"w":670,"r":0.1},{"p":"C","u":510,"w":690,"r":0.5},{"p":"C","u":510,"w":710,"r":0.15},{"p":"C","u":510,"w":730,"r":0.5},
{"p":"C","u":540,"w":390,"r":0.3},{"p":"C","u":540,"w":410,"r":0.35},{"p":"C","u":540,"w":430,"r":0.3},{"p":"C","u":540,"w":450,"r":0.35},{"p":"C","u":540,"w":470,"r":0.2},{"p":"C","u":540,"w":490,"r":0.08},{"p":"C","u":540,"w":510,"r":0.45},{"p":"C","u":540,"w":530,"r":0.42},{"p":"C","u":540,"w":550,"r":0.42},{"p":"C","u":540,"w":570,"r":0.5},{"p":"C","u":540,"w":590,"r":0.5},{"p":"C","u":540,"w":610,"r":0.42},{"p":"C","u":540,"w":630,"r":0.4},{"p":"C","u":540,"w":650,"r":0.3},{"p":"C","u":540,"w":670,"r":0.05},{"p":"C","u":540,"w":690,"r":0.12},{"p":"C","u":540,"w":710,"r":0.58},{"p":"C","u":540,"w":730,"r":0.48},
{"p":"C","u":570,"w":390,"r":0.5},{"p":"C","u":570,"w":410,"r":0.5},{"p":"C","u":570,"w":430,"r":0.55},{"p":"C","u":570,"w":450,"r":0.3},{"p":"C","u":570,"w":470,"r":0.3},{"p":"C","u":570,"w":490,"r":0.1},{"p":"C","u":570,"w":510,"r":0.35},{"p":"C","u":570,"w":530,"r":0.06},{"p":"C","u":570,"w":550,"r":0.05},{"p":"C","u":570,"w":570,"r":0.5},{"p":"C","u":570,"w":590,"r":0.52},{"p":"C","u":570,"w":610,"r":0.5},{"p":"C","u":570,"w":630,"r":0.4},{"p":"C","u":570,"w":650,"r":0.1},{"p":"C","u":570,"w":670,"r":0.03},{"p":"C","u":570,"w":690,"r":0.55},{"p":"C","u":570,"w":710,"r":0.1},{"p":"C","u":570,"w":730,"r":0.55},
{"p":"C","u":600,"w":390,"r":0.4},{"p":"C","u":600,"w":410,"r":0.35},{"p":"C","u":600,"w":430,"r":0.6},{"p":"C","u":600,"w":450,"r":0.35},{"p":"C","u":600,"w":470,"r":0.4},{"p":"C","u":600,"w":490,"r":0.07},{"p":"C","u":600,"w":510,"r":0.3},{"p":"C","u":600,"w":530,"r":0.05},{"p":"C","u":600,"w":550,"r":0.06},{"p":"C","u":600,"w":570,"r":0.5},{"p":"C","u":600,"w":590,"r":0.52},{"p":"C","u":600,"w":610,"r":0.4},{"p":"C","u":600,"w":630,"r":0.35},{"p":"C","u":600,"w":650,"r":0.3},{"p":"C","u":600,"w":670,"r":0.04},{"p":"C","u":600,"w":690,"r":0.3},{"p":"C","u":600,"w":710,"r":0.08},{"p":"C","u":600,"w":730,"r":0.5},
{"p":"C","u":630,"w":390,"r":0.5},{"p":"C","u":630,"w":410,"r":0.55},{"p":"C","u":630,"w":430,"r":0.65},{"p":"C","u":630,"w":450,"r":0.55},{"p":"C","u":630,"w":470,"r":0.5},{"p":"C","u":630,"w":490,"r":0.1},{"p":"C","u":630,"w":510,"r":0.35},{"p":"C","u":630,"w":530,"r":0.05},{"p":"C","u":630,"w":550,"r":0.05},{"p":"C","u":630,"w":570,"r":0.3},{"p":"C","u":630,"w":590,"r":0.48},{"p":"C","u":630,"w":610,"r":0.55},{"p":"C","u":630,"w":630,"r":0.5},{"p":"C","u":630,"w":650,"r":0.42},{"p":"C","u":630,"w":670,"r":0.04},{"p":"C","u":630,"w":690,"r":0.3},{"p":"C","u":630,"w":710,"r":0.06},{"p":"C","u":630,"w":730,"r":0.52},
{"p":"C","u":660,"w":390,"r":0.2},{"p":"C","u":660,"w":410,"r":0.3},{"p":"C","u":660,"w":430,"r":0.25},{"p":"C","u":660,"w":450,"r":0.1},{"p":"C","u":660,"w":470,"r":0.25},{"p":"C","u":660,"w":490,"r":0.08},{"p":"C","u":660,"w":510,"r":0.35},{"p":"C","u":660,"w":530,"r":0.08},{"p":"C","u":660,"w":550,"r":0.3},{"p":"C","u":660,"w":570,"r":0.45},{"p":"C","u":660,"w":590,"r":0.5},{"p":"C","u":660,"w":610,"r":0.55},{"p":"C","u":660,"w":630,"r":0.5},{"p":"C","u":660,"w":650,"r":0.45},{"p":"C","u":660,"w":670,"r":0.3},{"p":"C","u":660,"w":690,"r":0.3},{"p":"C","u":660,"w":710,"r":0.08},{"p":"C","u":660,"w":730,"r":0.55},
{"p":"C","u":690,"w":390,"r":0.55},{"p":"C","u":690,"w":410,"r":0.5},{"p":"C","u":690,"w":430,"r":0.65},{"p":"C","u":690,"w":450,"r":0.5},{"p":"C","u":690,"w":470,"r":0.5},{"p":"C","u":690,"w":490,"r":0.12},{"p":"C","u":690,"w":510,"r":0.3},{"p":"C","u":690,"w":530,"r":0.05},{"p":"C","u":690,"w":550,"r":0.08},{"p":"C","u":690,"w":570,"r":0.35},{"p":"C","u":690,"w":590,"r":0.5},{"p":"C","u":690,"w":610,"r":0.45},{"p":"C","u":690,"w":630,"r":0.55},{"p":"C","u":690,"w":650,"r":0.35},{"p":"C","u":690,"w":670,"r":0.08},{"p":"C","u":690,"w":690,"r":0.1},{"p":"C","u":690,"w":710,"r":0.6},{"p":"C","u":690,"w":730,"r":0.6},
{"p":"C","u":720,"w":390,"r":0.3},{"p":"C","u":720,"w":410,"r":0.3},{"p":"C","u":720,"w":430,"r":0.35},{"p":"C","u":720,"w":450,"r":0.38},{"p":"C","u":720,"w":470,"r":0.42},{"p":"C","u":720,"w":490,"r":0.5},{"p":"C","u":720,"w":510,"r":0.6},{"p":"C","u":720,"w":530,"r":0.6},{"p":"C","u":720,"w":550,"r":0.55},{"p":"C","u":720,"w":570,"r":0.58},{"p":"C","u":720,"w":590,"r":0.58},{"p":"C","u":720,"w":610,"r":0.55},{"p":"C","u":720,"w":630,"r":0.52},{"p":"C","u":720,"w":650,"r":0.5},{"p":"C","u":720,"w":670,"r":0.42},{"p":"C","u":720,"w":690,"r":0.58},{"p":"C","u":720,"w":710,"r":0.6},{"p":"C","u":720,"w":730,"r":0.55},
{"p":"S","u":390,"w":390,"r":0.05},{"p":"S","u":390,"w":410,"r":0.05},{"p":"S","u":390,"w":430,"r":0.06},{"p":"S","u":390,"w":450,"r":0.07},{"p":"S","u":390,"w":470,"r":0.07},{"p":"S","u":390,"w":490,"r":0.08},{"p":"S","u":390,"w":510,"r":0.14},{"p":"S","u":390,"w":530,"r":0.16},{"p":"S","u":390,"w":550,"r":0.17},{"p":"S","u":390,"w":570,"r":0.17},{"p":"S","u":390,"w":590,"r":0.16},{"p":"S","u":390,"w":610,"r":0.14},{"p":"S","u":390,"w":630,"r":0.1},{"p":"S","u":390,"w":650,"r":0.07},{"p":"S","u":390,"w":670,"r":0.06},{"p":"S","u":390,"w":690,"r":0.12},{"p":"S","u":390,"w":710,"r":0.05},{"p":"S","u":390,"w":730,"r":0.05},
{"p":"S","u":420,"w":390,"r":0.05},{"p":"S","u":420,"w":410,"r":0.05},{"p":"S","u":420,"w":430,"r":0.07},{"p":"S","u":420,"w":450,"r":0.07},{"p":"S","u":420,"w":470,"r":0.07},{"p":"S","u":420,"w":490,"r":0.08},{"p":"S","u":420,"w":510,"r":0.14},{"p":"S","u":420,"w":530,"r":0.17},{"p":"S","u":420,"w":550,"r":0.18},{"p":"S","u":420,"w":570,"r":0.18},{"p":"S","u":420,"w":590,"r":0.17},{"p":"S","u":420,"w":610,"r":0.15},{"p":"S","u":420,"w":630,"r":0.12},{"p":"S","u":420,"w":650,"r":0.08},{"p":"S","u":420,"w":670,"r":0.06},{"p":"S","u":420,"w":690,"r":0.16},{"p":"S","u":420,"w":710,"r":0.05},{"p":"S","u":420,"w":730,"r":0.05},
{"p":"S","u":450,"w":390,"r":0.06},{"p":"S","u":450,"w":410,"r":0.05},{"p":"S","u":450,"w":430,"r":0.06},{"p":"S","u":450,"w":450,"r":0.07},{"p":"S","u":450,"w":470,"r":0.07},{"p":"S","u":450,"w":490,"r":0.08},{"p":"S","u":450,"w":510,"r":0.12},{"p":"S","u":450,"w":530,"r":0.18},{"p":"S","u":450,"w":550,"r":0.18},{"p":"S","u":450,"w":570,"r":0.19},{"p":"S","u":450,"w":590,"r":0.18},{"p":"S","u":450,"w":610,"r":0.15},{"p":"S","u":450,"w":630,"r":0.12},{"p":"S","u":450,"w":650,"r":0.07},{"p":"S","u":450,"w":670,"r":0.06},{"p":"S","u":450,"w":690,"r":0.2},{"p":"S","u":450,"w":710,"r":0.04},{"p":"S","u":450,"w":730,"r":0.05},
{"p":"S","u":480,"w":390,"r":0.06},{"p":"S","u":480,"w":410,"r":0.05},{"p":"S","u":480,"w":430,"r":0.07},{"p":"S","u":480,"w":450,"r":0.06},{"p":"S","u":480,"w":470,"r":0.05},{"p":"S","u":480,"w":490,"r":0.07},{"p":"S","u":480,"w":510,"r":0.18},{"p":"S","u":480,"w":530,"r":0.22},{"p":"S","u":480,"w":550,"r":0.22},{"p":"S","u":480,"w":570,"r":0.2},{"p":"S","u":480,"w":590,"r":0.18},{"p":"S","u":480,"w":610,"r":0.16},{"p":"S","u":480,"w":630,"r":0.12},{"p":"S","u":480,"w":650,"r":0.08},{"p":"S","u":480,"w":670,"r":0.05},{"p":"S","u":480,"w":690,"r":0.15},{"p":"S","u":480,"w":710,"r":0.04},{"p":"S","u":480,"w":730,"r":0.05},
{"p":"S","u":510,"w":390,"r":0.1},{"p":"S","u":510,"w":410,"r":0.15},{"p":"S","u":510,"w":430,"r":0.3},{"p":"S","u":510,"w":450,"r":0.35},{"p":"S","u":510,"w":470,"r":0.4},{"p":"S","u":510,"w":490,"r":0.1},{"p":"S","u":510,"w":510,"r":0.2},{"p":"S","u":510,"w":530,"r":0.15},{"p":"S","u":510,"w":550,"r":0.1},{"p":"S","u":510,"w":570,"r":0.14},{"p":"S","u":510,"w":590,"r":0.14},{"p":"S","u":510,"w":610,"r":0.12},{"p":"S","u":510,"w":630,"r":0.1},{"p":"S","u":510,"w":650,"r":0.07},{"p":"S","u":510,"w":670,"r":0.3},{"p":"S","u":510,"w":690,"r":0.05},{"p":"S","u":510,"w":710,"r":0.12},{"p":"S","u":510,"w":730,"r":0.05},
{"p":"S","u":540,"w":390,"r":0.08},{"p":"S","u":540,"w":410,"r":0.15},{"p":"S","u":540,"w":430,"r":0.22},{"p":"S","u":540,"w":450,"r":0.32},{"p":"S","u":540,"w":470,"r":0.35},{"p":"S","u":540,"w":490,"r":0.38},{"p":"S","u":540,"w":510,"r":0.06},{"p":"S","u":540,"w":530,"r":0.1},{"p":"S","u":540,"w":550,"r":0.08},{"p":"S","u":540,"w":570,"r":0.1},{"p":"S","u":540,"w":590,"r":0.1},{"p":"S","u":540,"w":610,"r":0.1},{"p":"S","u":540,"w":630,"r":0.08},{"p":"S","u":540,"w":650,"r":0.06},{"p":"S","u":540,"w":670,"r":0.3},{"p":"S","u":540,"w":690,"r":0.05},{"p":"S","u":540,"w":710,"r":0.06},{"p":"S","u":540,"w":730,"r":0.05},
{"p":"S","u":570,"w":390,"r":0.08},{"p":"S","u":570,"w":410,"r":0.18},{"p":"S","u":570,"w":430,"r":0.26},{"p":"S","u":570,"w":450,"r":0.3},{"p":"S","u":570,"w":470,"r":0.35},{"p":"S","u":570,"w":490,"r":0.3},{"p":"S","u":570,"w":510,"r":0.05},{"p":"S","u":570,"w":530,"r":0.05},{"p":"S","u":570,"w":550,"r":0.05},{"p":"S","u":570,"w":570,"r":0.06},{"p":"S","u":570,"w":590,"r":0.08},{"p":"S","u":570,"w":610,"r":0.1},{"p":"S","u":570,"w":630,"r":0.1},{"p":"S","u":570,"w":650,"r":0.08},{"p":"S","u":570,"w":670,"r":0.42},{"p":"S","u":570,"w":690,"r":0.08},{"p":"S","u":570,"w":710,"r":0.06},{"p":"S","u":570,"w":730,"r":0.05},
{"p":"S","u":600,"w":390,"r":0.1},{"p":"S","u":600,"w":410,"r":0.15},{"p":"S","u":600,"w":430,"r":0.22},{"p":"S","u":600,"w":450,"r":0.28},{"p":"S","u":600,"w":470,"r":0.3},{"p":"S","u":600,"w":490,"r":0.3},{"p":"S","u":600,"w":510,"r":0.05},{"p":"S","u":600,"w":530,"r":0.05},{"p":"S","u":600,"w":550,"r":0.06},{"p":"S","u":600,"w":570,"r":0.08},{"p":"S","u":600,"w":590,"r":0.1},{"p":"S","u":600,"w":610,"r":0.1},{"p":"S","u":600,"w":630,"r":0.12},{"p":"S","u":600,"w":650,"r":0.1},{"p":"S","u":600,"w":670,"r":0.48},{"p":"S","u":600,"w":690,"r":0.1},{"p":"S","u":600,"w":710,"r":0.06},{"p":"S","u":600,"w":730,"r":0.05},
{"p":"S","u":630,"w":390,"r":0.1},{"p":"S","u":630,"w":410,"r":0.14},{"p":"S","u":630,"w":430,"r":0.2},{"p":"S","u":630,"w":450,"r":0.24},{"p":"S","u":630,"w":470,"r":0.26},{"p":"S","u":630,"w":490,"r":0.26},{"p":"S","u":630,"w":510,"r":0.1},{"p":"S","u":630,"w":530,"r":0.14},{"p":"S","u":630,"w":550,"r":0.2},{"p":"S","u":630,"w":570,"r":0.3},{"p":"S","u":630,"w":590,"r":0.22},{"p":"S","u":630,"w":610,"r":0.18},{"p":"S","u":630,"w":630,"r":0.15},{"p":"S","u":630,"w":650,"r":0.1},{"p":"S","u":630,"w":670,"r":0.45},{"p":"S","u":630,"w":690,"r":0.12},{"p":"S","u":630,"w":710,"r":0.06},{"p":"S","u":630,"w":730,"r":0.05},
{"p":"S","u":660,"w":390,"r":0.08},{"p":"S","u":660,"w":410,"r":0.06},{"p":"S","u":660,"w":430,"r":0.07},{"p":"S","u":660,"w":450,"r":0.08},{"p":"S","u":660,"w":470,"r":0.1},{"p":"S","u":660,"w":490,"r":0.08},{"p":"S","u":660,"w":510,"r":0.26},{"p":"S","u":660,"w":530,"r":0.26},{"p":"S","u":660,"w":550,"r":0.3},{"p":"S","u":660,"w":570,"r":0.32},{"p":"S","u":660,"w":590,"r":0.26},{"p":"S","u":660,"w":610,"r":0.24},{"p":"S","u":660,"w":630,"r":0.2},{"p":"S","u":660,"w":650,"r":0.08},{"p":"S","u":660,"w":670,"r":0.2},{"p":"S","u":660,"w":690,"r":0.26},{"p":"S","u":660,"w":710,"r":0.05},{"p":"S","u":660,"w":730,"r":0.05},
{"p":"S","u":690,"w":390,"r":0.12},{"p":"S","u":690,"w":410,"r":0.22},{"p":"S","u":690,"w":430,"r":0.28},{"p":"S","u":690,"w":450,"r":0.3},{"p":"S","u":690,"w":470,"r":0.3},{"p":"S","u":690,"w":490,"r":0.06},{"p":"S","u":690,"w":510,"r":0.12},{"p":"S","u":690,"w":530,"r":0.12},{"p":"S","u":690,"w":550,"r":0.25},{"p":"S","u":690,"w":570,"r":0.18},{"p":"S","u":690,"w":590,"r":0.12},{"p":"S","u":690,"w":610,"r":0.1},{"p":"S","u":690,"w":630,"r":0.1},{"p":"S","u":690,"w":650,"r":0.1},{"p":"S","u":690,"w":670,"r":0.35},{"p":"S","u":690,"w":690,"r":0.1},{"p":"S","u":690,"w":710,"r":0.08},{"p":"S","u":690,"w":730,"r":0.06},
{"p":"S","u":720,"w":390,"r":0.08},{"p":"S","u":720,"w":410,"r":0.08},{"p":"S","u":720,"w":430,"r":0.08},{"p":"S","u":720,"w":450,"r":0.09},{"p":"S","u":720,"w":470,"r":0.1},{"p":"S","u":720,"w":490,"r":0.1},{"p":"S","u":720,"w":510,"r":0.12},{"p":"S","u":720,"w":530,"r":0.14},{"p":"S","u":720,"w":550,"r":0.12},{"p":"S","u":720,"w":570,"r":0.1},{"p":"S","u":720,"w":590,"r":0.1},{"p":"S","u":720,"w":610,"r":0.09},{"p":"S","u":720,"w":630,"r":0.09},{"p":"S","u":720,"w":650,"r":0.08},{"p":"S","u":720,"w":670,"r":0.07},{"p":"S","u":720,"w":690,"r":0.1},{"p":"S","u":720,"w":710,"r":0.11},{"p":"S","u":720,"w":730,"r":0.1}
]},
"encoding":{"x":{"field":"px","type":"quantitative","scale":{"domain":[0,3262],"nice":false,"zero":false},"axis":null},"y":{"field":"py","type":"quantitative","scale":{"domain":[2054,0],"nice":false,"zero":false},"axis":null}},
"layer":[
{"data":{"name":"frame"},"transform":[{"filter":"datum.g==1"},{"calculate":"['K','C','W','S']","as":"p"},{"flatten":["p"]},{"calculate":"P[datum.p]","as":"q"},{"calculate":"datum.q.x0+datum.q.ax*(datum.a-300)+datum.q.bx*(datum.b-200)","as":"px"},{"calculate":"datum.q.y0+datum.q.ay*(datum.a-300)+datum.q.by*(datum.b-200)+datum.q.cy*(datum.c-300)","as":"py"},{"calculate":"datum.q.x0+datum.q.ax*(datum.a2-300)+datum.q.bx*(datum.b2-200)","as":"px2"},{"calculate":"datum.q.y0+datum.q.ay*(datum.a2-300)+datum.q.by*(datum.b2-200)+datum.q.cy*(datum.c2-300)","as":"py2"}],"mark":{"type":"rule","color":"#d8d8d8","strokeWidth":2},"encoding":{"x2":{"field":"px2"},"y2":{"field":"py2"}}},
{"data":{"name":"frame"},"transform":[{"filter":"datum.g==0"},{"calculate":"['K','C','W','S']","as":"p"},{"flatten":["p"]},{"calculate":"P[datum.p]","as":"q"},{"calculate":"datum.q.x0+datum.q.ax*(datum.a-300)+datum.q.bx*(datum.b-200)","as":"px"},{"calculate":"datum.q.y0+datum.q.ay*(datum.a-300)+datum.q.by*(datum.b-200)+datum.q.cy*(datum.c-300)","as":"py"},{"calculate":"datum.q.x0+datum.q.ax*(datum.a2-300)+datum.q.bx*(datum.b2-200)","as":"px2"},{"calculate":"datum.q.y0+datum.q.ay*(datum.a2-300)+datum.q.by*(datum.b2-200)+datum.q.cy*(datum.c2-300)","as":"py2"}],"mark":{"type":"rule","color":"#333333","strokeWidth":2.5},"encoding":{"x2":{"field":"px2"},"y2":{"field":"py2"}}},
{"data":{"name":"side"},"transform":[{"calculate":"P[datum.p]","as":"q"},{"calculate":"[0,1]","as":"f"},{"flatten":["f"]},{"calculate":"datum.u+datum.q.du/2","as":"m"},{"calculate":"datum.f?390:datum.m","as":"a"},{"calculate":"datum.f?datum.m:390","as":"b"},{"calculate":"datum.w+datum.q.dw/2","as":"c"},{"calculate":"datum.q.x0+datum.q.ax*(datum.a-300)+datum.q.bx*(datum.b-200)","as":"px"},{"calculate":"datum.q.y0+datum.q.ay*(datum.a-300)+datum.q.by*(datum.b-200)+datum.q.cy*(datum.c-300)","as":"py"},{"calculate":"1.06*(datum.f?datum.q.bx:datum.q.ax)*datum.q.du/2","as":"hx"},{"calculate":"1.06*(datum.f?datum.q.by:datum.q.ay)*datum.q.du/2","as":"hy"},{"calculate":"1.06*datum.q.cy*datum.q.dw/2","as":"vy"},{"calculate":"'M'+(-datum.hx)+','+(-datum.hy-datum.vy)+'L'+datum.hx+','+(datum.hy-datum.vy)+'L'+datum.hx+','+(datum.hy+datum.vy)+'L'+(-datum.hx)+','+(-datum.hy+datum.vy)+'Z'","as":"path"}],"mark":{"type":"point","filled":true,"size":4,"opacity":1},"encoding":{"shape":{"field":"path","type":"nominal","scale":null,"legend":null},"color":{"field":"r","type":"quantitative","legend":null,"scale":{"domain":[0,0.1,0.2,0.3,0.4,0.45,0.5,0.6,0.7,0.8,0.85,1],"range":["#00007f","#0000e0","#0080ff","#00ffff","#00f070","#80ee20","#ffff00","#ff9900","#ff1000","#a00000","#7f0000","#7f0000"]}}}},
{"data":{"name":"top"},"transform":[{"calculate":"P[datum.p]","as":"q"},{"calculate":"[0,1]","as":"f"},{"flatten":["f"]},{"calculate":"(datum.f?datum.v:datum.u)+datum.q.dt/2","as":"a"},{"calculate":"(datum.f?datum.u:datum.v)+datum.q.dt/2","as":"b"},{"calculate":"750","as":"c"},{"calculate":"datum.q.x0+datum.q.ax*(datum.a-300)+datum.q.bx*(datum.b-200)","as":"px"},{"calculate":"datum.q.y0+datum.q.ay*(datum.a-300)+datum.q.by*(datum.b-200)+datum.q.cy*(datum.c-300)","as":"py"},{"calculate":"1.04*datum.q.ax*datum.q.dt/2","as":"ax"},{"calculate":"1.04*datum.q.ay*datum.q.dt/2","as":"ay"},{"calculate":"1.04*datum.q.bx*datum.q.dt/2","as":"bx"},{"calculate":"1.04*datum.q.by*datum.q.dt/2","as":"by"},{"calculate":"'M'+(-datum.ax-datum.bx)+','+(-datum.ay-datum.by)+'L'+(datum.ax-datum.bx)+','+(datum.ay-datum.by)+'L'+(datum.ax+datum.bx)+','+(datum.ay+datum.by)+'L'+(-datum.ax+datum.bx)+','+(-datum.ay+datum.by)+'Z'","as":"path"}],"mark":{"type":"point","filled":true,"size":4,"opacity":1},"encoding":{"shape":{"field":"path","type":"nominal","scale":null,"legend":null},"color":{"field":"r","type":"quantitative","legend":null,"scale":{"domain":[0,0.1,0.2,0.3,0.4,0.45,0.5,0.6,0.7,0.8,0.85,1],"range":["#00007f","#0000e0","#0080ff","#00ffff","#00f070","#80ee20","#ffff00","#ff9900","#ff1000","#a00000","#7f0000","#7f0000"]}}}},
{"data":{"name":"text"},"transform":[{"filter":"datum.k=='tick'"},{"calculate":"['K','C','W','S']","as":"p"},{"flatten":["p"]},{"calculate":"P[datum.p]","as":"q"},{"calculate":"datum.q.x0+datum.q.ax*(datum.a-300)+datum.q.bx*(datum.b-200)","as":"px"},{"calculate":"datum.q.y0+datum.q.ay*(datum.a-300)+datum.q.by*(datum.b-200)+datum.q.cy*(datum.c-300)","as":"py"}],"mark":{"type":"text","font":"Liberation Serif","fontSize":37,"color":"#222222","align":"center","baseline":"middle"},"encoding":{"text":{"field":"t"}}},
{"data":{"name":"text"},"transform":[{"filter":"datum.k=='w1'"},{"calculate":"P[datum.p]","as":"q"},{"calculate":"datum.q.x0+datum.q.ax*(datum.a-300)+datum.q.bx*(datum.b-200)","as":"px"},{"calculate":"datum.q.y0+datum.q.ay*(datum.a-300)+datum.q.by*(datum.b-200)+datum.q.cy*(datum.c-300)","as":"py"}],"mark":{"type":"text","font":"Liberation Serif","fontSize":48,"color":"#222222","align":"center","baseline":"middle","angle":344},"encoding":{"text":{"field":"t"}}},
{"data":{"name":"text"},"transform":[{"filter":"datum.k=='w2'"},{"calculate":"P[datum.p]","as":"q"},{"calculate":"datum.q.x0+datum.q.ax*(datum.a-300)+datum.q.bx*(datum.b-200)","as":"px"},{"calculate":"datum.q.y0+datum.q.ay*(datum.a-300)+datum.q.by*(datum.b-200)+datum.q.cy*(datum.c-300)","as":"py"}],"mark":{"type":"text","font":"Liberation Serif","fontSize":48,"color":"#222222","align":"center","baseline":"middle","angle":23},"encoding":{"text":{"field":"t"}}},
{"data":{"name":"text"},"transform":[{"filter":"datum.k=='w3'"},{"calculate":"P[datum.p]","as":"q"},{"calculate":"datum.q.x0+datum.q.ax*(datum.a-300)+datum.q.bx*(datum.b-200)","as":"px"},{"calculate":"datum.q.y0+datum.q.ay*(datum.a-300)+datum.q.by*(datum.b-200)+datum.q.cy*(datum.c-300)","as":"py"}],"mark":{"type":"text","font":"Liberation Serif","fontSize":48,"color":"#222222","align":"center","baseline":"middle","angle":270},"encoding":{"text":{"field":"t"}}},
{"data":{"name":"text"},"transform":[{"filter":"datum.k=='title'"},{"calculate":"P[datum.p]","as":"q"},{"calculate":"datum.q.x0+datum.q.ax*(datum.a-300)+datum.q.bx*(datum.b-200)","as":"px"},{"calculate":"datum.q.y0+datum.q.ay*(datum.a-300)+datum.q.by*(datum.b-200)+datum.q.cy*(datum.c-300)","as":"py"}],"mark":{"type":"text","font":"Liberation Serif","fontSize":44,"fontWeight":"bold","color":"#111111","align":"center","baseline":"middle"},"encoding":{"text":{"field":"t"}}},
{"data":{"name":"cbar"},"transform":[{"calculate":"['K','C','W','S']","as":"p"},{"flatten":["p"]},{"calculate":"P[datum.p]","as":"q"},{"calculate":"datum.q.cx0","as":"px"},{"calculate":"datum.q.cx1","as":"px2"},{"calculate":"datum.q.cb-(datum.r+0.011)*(datum.q.cb-datum.q.ct)","as":"py"},{"calculate":"datum.q.cb-(datum.r-0.011)*(datum.q.cb-datum.q.ct)","as":"py2"}],"mark":{"type":"rect"},"encoding":{"x2":{"field":"px2"},"y2":{"field":"py2"},"color":{"field":"r","type":"quantitative","legend":null,"scale":{"domain":[0,0.1,0.2,0.3,0.4,0.45,0.5,0.6,0.7,0.8,0.85,1],"range":["#00007f","#0000e0","#0080ff","#00ffff","#00f070","#80ee20","#ffff00","#ff9900","#ff1000","#a00000","#7f0000","#7f0000"]}}}},
{"data":{"values":[{"p":"K"},{"p":"C"},{"p":"W"},{"p":"S"}]},"transform":[{"calculate":"P[datum.p]","as":"q"},{"calculate":"datum.q.cx0","as":"px"},{"calculate":"datum.q.cx1","as":"px2"},{"calculate":"datum.q.ct","as":"py"},{"calculate":"datum.q.cb","as":"py2"}],"mark":{"type":"rect","fillOpacity":0,"stroke":"#333333","strokeWidth":1.5},"encoding":{"x2":{"field":"px2"},"y2":{"field":"py2"}}},
{"data":{"name":"clab"},"transform":[{"calculate":"['K','C','W','S']","as":"p"},{"flatten":["p"]},{"calculate":"P[datum.p]","as":"q"},{"calculate":"datum.q.cx1-7","as":"px"},{"calculate":"datum.q.cx1","as":"px2"},{"calculate":"datum.q.cb-datum.r*(datum.q.cb-datum.q.ct)","as":"py"}],"mark":{"type":"rule","color":"#222222","strokeWidth":2},"encoding":{"x2":{"field":"px2"}}},
{"data":{"name":"clab"},"transform":[{"calculate":"['K','C','W','S']","as":"p"},{"flatten":["p"]},{"calculate":"P[datum.p]","as":"q"},{"calculate":"datum.q.cx1+13","as":"px"},{"calculate":"datum.q.cb-datum.r*(datum.q.cb-datum.q.ct)","as":"py"}],"mark":{"type":"text","font":"Liberation Serif","fontSize":33,"color":"#222222","align":"left","baseline":"middle"},"encoding":{"text":{"field":"t"}}},
{"data":{"values":[{"p":"K","t":"R²"},{"p":"C","t":"R²"},{"p":"W","t":"R²"},{"p":"S","t":"R²"}]},"transform":[{"calculate":"P[datum.p]","as":"q"},{"calculate":"datum.q.cx0+31","as":"px"},{"calculate":"datum.q.ct-datum.q.rt","as":"py"}],"mark":{"type":"text","font":"Liberation Serif","fontSize":46,"color":"#222222","align":"center","baseline":"middle"},"encoding":{"text":{"field":"t"}}}
]}
